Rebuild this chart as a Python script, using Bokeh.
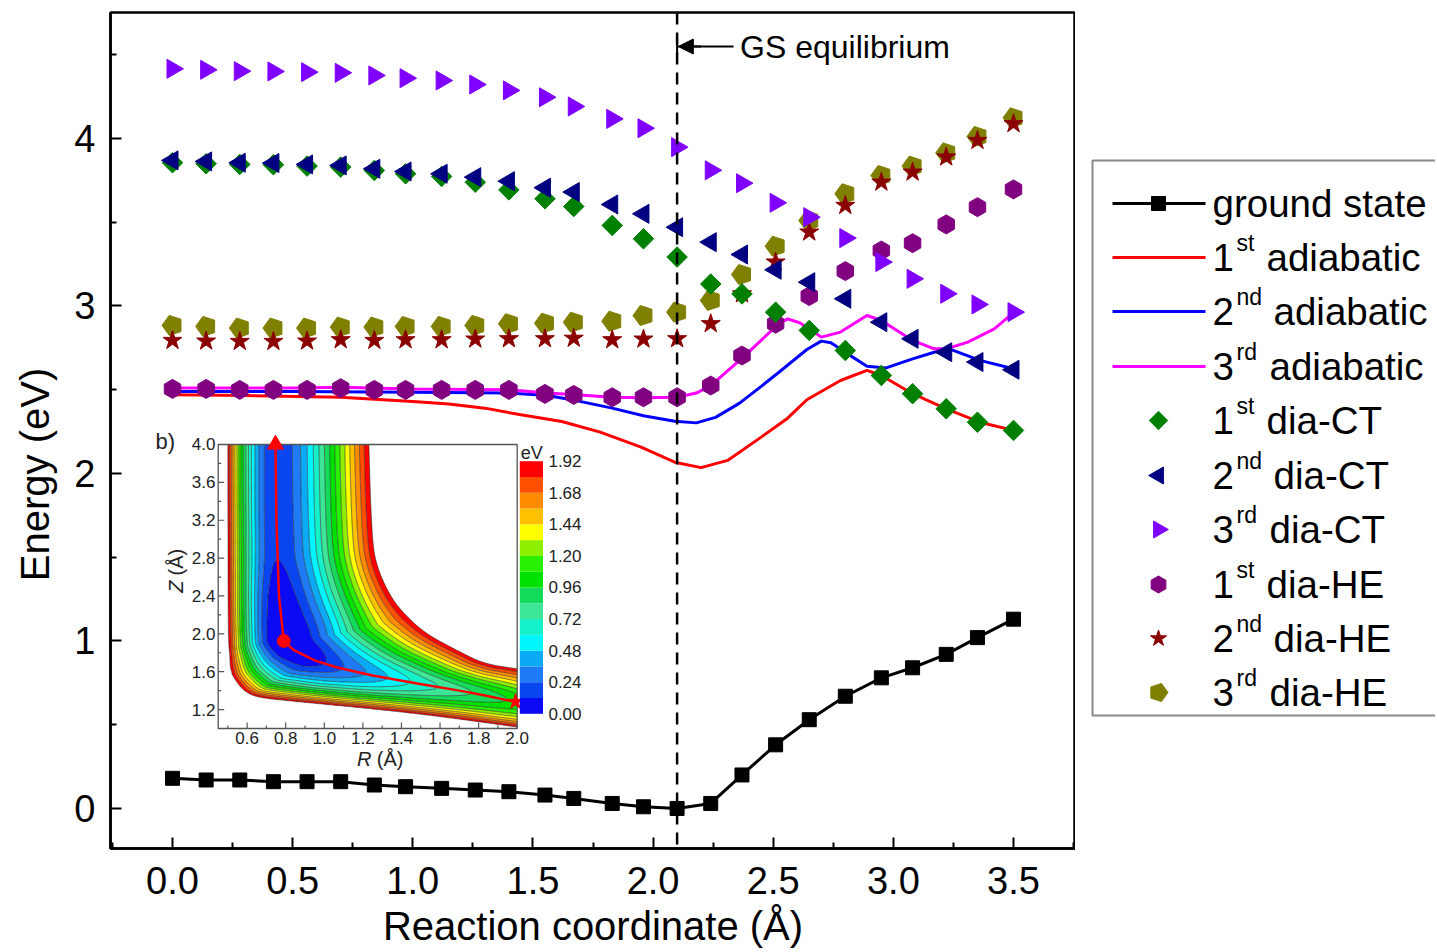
import numpy as np
from bokeh.plotting import figure
from bokeh.layouts import row
from bokeh.models import (Range1d, FixedTicker, Span, Label, Arrow, NormalHead, TeeHead)
from bokeh.core.properties import value
from bokeh.plotting.contour import contour_data
from bokeh.embed import file_html
from bokeh.resources import INLINE

# ---------------- main chart data ----------------
reaction_x = [0.00, 0.14, 0.28, 0.42, 0.56, 0.70, 0.84, 0.97, 1.12, 1.26, 1.40, 1.55, 1.67,
              1.83, 1.96, 2.10, 2.24, 2.37, 2.51, 2.65, 2.80, 2.95, 3.08, 3.22, 3.35, 3.50]
ground_state = [0.18, 0.17, 0.17, 0.16, 0.16, 0.16, 0.14, 0.13, 0.12, 0.11, 0.10, 0.08, 0.06,
                0.03, 0.01, 0.00, 0.03, 0.20, 0.38, 0.53, 0.67, 0.78, 0.84, 0.92, 1.02, 1.13]
dia_ct1 = [3.855, 3.849, 3.845, 3.843, 3.835, 3.829, 3.809, 3.789, 3.773, 3.739, 3.693, 3.640, 3.594,
           3.481, 3.401, 3.292, 3.131, 3.072, 2.963, 2.854, 2.734, 2.585, 2.476, 2.386, 2.306, 2.257]
dia_ct2 = [3.869, 3.863, 3.855, 3.853, 3.845, 3.839, 3.819, 3.803, 3.789, 3.769, 3.745, 3.706, 3.680,
           3.606, 3.550, 3.470, 3.381, 3.307, 3.216, 3.142, 3.043, 2.903, 2.804, 2.724, 2.665, 2.619]
dia_ct3 = [4.416, 4.410, 4.402, 4.400, 4.396, 4.392, 4.376, 4.360, 4.346, 4.322, 4.287, 4.246, 4.191,
           4.117, 4.061, 3.948, 3.810, 3.733, 3.616, 3.530, 3.405, 3.262, 3.162, 3.073, 3.009, 2.963]
dia_he1 = [2.505, 2.505, 2.499, 2.499, 2.499, 2.509, 2.499, 2.499, 2.499, 2.499, 2.499, 2.475, 2.469,
           2.455, 2.455, 2.455, 2.525, 2.704, 2.894, 3.059, 3.208, 3.331, 3.375, 3.487, 3.590, 3.696]
dia_he2 = [2.794, 2.790, 2.788, 2.788, 2.790, 2.798, 2.794, 2.798, 2.798, 2.802, 2.804, 2.804, 2.807,
           2.798, 2.802, 2.804, 2.894, 3.072, 3.262, 3.441, 3.600, 3.739, 3.799, 3.889, 3.988, 4.088]
dia_he3 = [2.884, 2.878, 2.868, 2.868, 2.868, 2.874, 2.874, 2.878, 2.878, 2.884, 2.894, 2.897, 2.903,
           2.909, 2.943, 2.963, 3.033, 3.188, 3.357, 3.510, 3.670, 3.779, 3.835, 3.914, 4.012, 4.123]

adia1_x = [0.0, 0.3, 0.7, 1.0, 1.15, 1.3, 1.45, 1.62, 1.78, 1.95, 2.09, 2.2, 2.31, 2.45, 2.56, 2.64,
           2.78, 2.89, 2.95, 3.08, 3.22, 3.36, 3.5]
adia1_y = [2.47, 2.465, 2.455, 2.43, 2.415, 2.39, 2.35, 2.31, 2.247, 2.157, 2.067, 2.035, 2.078, 2.217,
           2.33, 2.44, 2.555, 2.615, 2.585, 2.476, 2.386, 2.306, 2.257]
adia2_x = [0.0, 0.5, 1.0, 1.4, 1.56, 1.68, 1.83, 1.96, 2.09, 2.18, 2.26, 2.36, 2.45, 2.52, 2.64, 2.70,
           2.74, 2.81, 2.89, 2.97, 3.08, 3.17, 3.23, 3.36, 3.5]
adia2_y = [2.49, 2.49, 2.485, 2.48, 2.465, 2.435, 2.39, 2.345, 2.312, 2.302, 2.335, 2.42, 2.52, 2.6,
           2.74, 2.79, 2.78, 2.714, 2.64, 2.63, 2.684, 2.724, 2.745, 2.675, 2.625]
adia3_x = [0.0, 0.5, 0.7, 1.0, 1.4, 1.56, 1.68, 1.83, 1.96, 2.1, 2.18, 2.24, 2.38, 2.52, 2.56, 2.61,
           2.66, 2.70, 2.78, 2.89, 2.95, 3.08, 3.17, 3.22, 3.31, 3.42, 3.5]
adia3_y = [2.51, 2.51, 2.515, 2.505, 2.50, 2.48, 2.47, 2.455, 2.452, 2.455, 2.48, 2.525, 2.70, 2.89,
           2.923, 2.90, 2.854, 2.814, 2.844, 2.943, 2.913, 2.794, 2.744, 2.744, 2.784, 2.863, 2.96]

x_ticks = [0.0, 0.5, 1.0, 1.5, 2.0, 2.5, 3.0, 3.5]
y_ticks = [0, 1, 2, 3, 4]
gs_equilibrium_x = 2.1

legend_num = ["", "1", "2", "3", "1", "2", "3", "1", "2", "3"]
legend_sup = ["", "st", "nd", "rd", "st", "nd", "rd", "st", "nd", "rd"]
legend_word = ["ground state", "adiabatic", "adiabatic", "adiabatic", "dia-CT", "dia-CT", "dia-CT",
               "dia-HE", "dia-HE", "dia-HE"]

# ---------------- inset (PES) data ----------------
path_R = [0.75, 0.75, 0.755, 0.765, 0.79, 0.842, 0.95, 1.067, 1.25, 1.482, 1.70, 1.827, 1.991, 2.20]
path_Z = [4.40, 3.40, 2.80, 2.40, 1.925, 1.827, 1.72, 1.644, 1.56, 1.475, 1.40, 1.352, 1.282, 1.22]
path_E = [0.135, 0.13, 0.125, 0.03, -0.08, -0.06, 0.05, 0.21, 0.40, 0.64, 0.80, 0.88, 0.99, 1.08]
outer_wall_R = [1.23, 1.23, 1.245, 1.265, 1.343, 1.43, 1.533, 1.689, 1.827, 2.0, 2.2]
outer_wall_Z = [4.30, 4.00, 3.09, 2.74, 2.387, 2.176, 1.993, 1.824, 1.683, 1.63, 1.57]
inner_wall_R = [0.50, 0.502, 0.505, 0.514, 0.54, 0.583, 0.643, 0.78, 1.438, 2.0, 2.2]
inner_wall_Z = [4.30, 3.00, 2.00, 1.61, 1.51, 1.40, 1.334, 1.30, 1.173, 1.017, 0.96]
mep_R = [0.747, 0.752, 0.765, 0.79, 0.842, 0.95, 1.067, 1.25, 1.482, 1.70, 1.827, 1.991]
mep_Z = [4.0, 3.2, 2.4, 1.925, 1.827, 1.72, 1.644, 1.56, 1.475, 1.40, 1.352, 1.282]
cb_levels = [0.00, 0.12, 0.24, 0.36, 0.48, 0.60, 0.72, 0.84, 0.96, 1.08, 1.20, 1.32, 1.44,
             1.56, 1.68, 1.80, 1.92]
cb_labels = ["0.00", "0.24", "0.48", "0.72", "0.96", "1.20", "1.44", "1.68", "1.92"]
band_colors = ["#0a0af5", "#0a46f0", "#1e7af5", "#0aaaf5", "#00f5ff", "#14f0c8", "#3ce696",
               "#14dc5a", "#00e100", "#28f000", "#8cf000", "#ffff00", "#ffc000", "#ff8c00",
               "#ff5000", "#ff0000"]
R_ticks = [0.6, 0.8, 1.0, 1.2, 1.4, 1.6, 1.8, 2.0]
R_minor = [0.5, 0.7, 0.9, 1.1, 1.3, 1.5, 1.7, 1.9]
Z_ticks = [1.2, 1.6, 2.0, 2.4, 2.8, 3.2, 3.6, 4.0]
Z_minor = [1.0, 1.4, 1.8, 2.2, 2.6, 3.0, 3.4, 3.8]

FONT = "Liberation Sans"
FRAME_TOP, FRAME_BOTTOM = 12, 848   # page pixels of the main plot frame

# ---------------- main figure ----------------
p = figure(frame_width=965, height=950, min_border_left=110, min_border_top=FRAME_TOP,
           min_border_right=0, min_border_bottom=0,
           x_range=Range1d(-0.258, 3.758), y_range=Range1d(-0.239, 4.752),
           output_backend="svg", toolbar_location=None)
p.extra_x_ranges = {"R": Range1d(-0.1083, 4.8943)}
p.extra_y_ranges = {"Z": Range1d(-0.2675, 8.5632)}
p.xgrid.visible = False
p.ygrid.visible = False
p.outline_line_color = "black"
p.outline_line_width = 2.5

for ax in (p.xaxis[0], p.yaxis[0]):
    ax.axis_line_width = 2.5
    ax.major_tick_in = 11
    ax.major_tick_out = 0
    ax.minor_tick_in = 6
    ax.minor_tick_out = 0
    ax.major_tick_line_width = 2
    ax.minor_tick_line_width = 2
    ax.major_label_text_font = FONT
    ax.major_label_text_font_size = "38px"
    ax.major_label_text_color = "black"
    ax.axis_label_text_font = FONT
    ax.axis_label_text_font_size = "40px"
    ax.axis_label_text_font_style = "normal"
    ax.axis_label_text_color = "black"

p.xaxis.ticker = FixedTicker(ticks=x_ticks, minor_ticks=[t + 0.25 for t in x_ticks] + [-0.25])
p.yaxis.ticker = FixedTicker(ticks=y_ticks, minor_ticks=[t + 0.5 for t in y_ticks])
p.xaxis.major_label_overrides = {t: f"{t:.1f}" for t in x_ticks}
p.yaxis.major_label_overrides = {t: f"{t}" for t in y_ticks}
p.xaxis.axis_label = "Reaction coordinate (Å)"
# trailing em spaces shift the rotated title down, as in the original figure
p.yaxis.axis_label = "Energy (eV)\u2003\u2003\u2009"
p.xaxis.major_label_standoff = 18
p.xaxis.axis_label_standoff = 7
p.yaxis.major_label_standoff = 15
p.yaxis.axis_label_standoff = 14

# adiabatic lines
p.line(adia1_x, adia1_y, line_color="#ff0000", line_width=3)
p.line(adia2_x, adia2_y, line_color="#0000ff", line_width=3)
p.line(adia3_x, adia3_y, line_color="#ff00ff", line_width=3)

# diabatic markers
p.ngon(x=reaction_x, y=dia_he3, radius=10.5, radius_units="screen", n=5, angle=np.pi / 2,
       fill_color="#808000", line_color="#808000")
p.scatter(reaction_x, dia_he2, marker="star", size=20, fill_color="#8b0000", line_color="#8b0000")
p.scatter(reaction_x, dia_he1, marker="hex", size=19, angle=np.pi / 2,
          fill_color="#800080", line_color="#800080")
p.scatter(reaction_x, dia_ct1, marker="square", size=14.5, angle=np.pi / 4,
          fill_color="#008000", line_color="#008000")
p.scatter(reaction_x, dia_ct2, marker="triangle", size=19, angle=np.pi / 2,
          fill_color="#000080", line_color="#000080")
p.scatter(reaction_x, dia_ct3, marker="triangle", size=19, angle=-np.pi / 2,
          fill_color="#8000ff", line_color="#8000ff")

# ground state
p.line(reaction_x, ground_state, line_color="black", line_width=3)
p.scatter(reaction_x, ground_state, marker="square", size=14, fill_color="black", line_color="black")

# GS equilibrium marker
p.add_layout(Span(location=gs_equilibrium_x, dimension="height", line_color="black",
                  line_width=2.5, line_dash="12 8"))
p.add_layout(Arrow(end=NormalHead(size=15, fill_color="black", line_color="black"),
                   x_start=2.335, y_start=4.549, x_end=gs_equilibrium_x + 0.005, y_end=4.549,
                   line_width=2, line_color="black"))
p.add_layout(Arrow(end=TeeHead(size=16, line_width=2, line_color="black"),
                   x_start=2.2, y_start=4.549, x_end=gs_equilibrium_x, y_end=4.549,
                   line_width=2, line_color="black"))
p.add_layout(Label(x=2.362, y=4.549, text="GS equilibrium", text_font=FONT, text_font_size="32px",
                   text_baseline="middle", text_align="left", text_color="black"))

# ---------------- inset: potential energy surface ----------------
RN = dict(x_range_name="R", y_range_name="Z")
grid_R = np.linspace(0.45, 2.0, 156)
grid_Z = np.linspace(1.0, 4.0, 301)
RR, ZZ = np.meshgrid(grid_R, grid_Z)
PR, PZ = RR.ravel(), ZZ.ravel()


def rounded(xs, ys, n=3):
    """Chaikin corner cutting of a read-off outline (keeps its end points)."""
    pts = np.column_stack([xs, ys]).astype(float)
    for _ in range(n):
        q = 0.75 * pts[:-1] + 0.25 * pts[1:]
        r = 0.25 * pts[:-1] + 0.75 * pts[1:]
        new = np.empty((2 * len(q), 2))
        new[0::2], new[1::2] = q, r
        pts = np.vstack([pts[0], new, pts[-1]])
    return pts[:, 0], pts[:, 1]


def polyline_distance(LR, LZ):
    best = np.full(PR.shape, np.inf)
    crs = np.zeros(PR.shape)
    for i in range(len(LR) - 1):
        dx, dz = LR[i + 1] - LR[i], LZ[i + 1] - LZ[i]
        L2 = dx * dx + dz * dz
        if L2 == 0:
            continue
        t = np.clip(((PR - LR[i]) * dx + (PZ - LZ[i]) * dz) / L2, 0, 1)
        d = np.hypot(PR - (LR[i] + t * dx), PZ - (LZ[i] + t * dz))
        c = dx * (PZ - LZ[i]) - dz * (PR - LR[i])
        b = d < best
        best = np.where(b, d, best)
        crs = np.where(b, c, crs)
    return best, crs


dp, side_p = polyline_distance(path_R, path_Z)
dwo, side_o = polyline_distance(*rounded(outer_wall_R, outer_wall_Z))
dwi, side_i = polyline_distance(*rounded(inner_wall_R, inner_wall_Z))

# valley floor energy, smoothed over samples along the path
pR, pZ, pE = np.array(path_R), np.array(path_Z), np.array(path_E)
arc = np.concatenate([[0], np.cumsum(np.hypot(np.diff(pR), np.diff(pZ)))])
s_samp = np.linspace(0, arc[-1], 180)
sR, sZ, sE = np.interp(s_samp, arc, pR), np.interp(s_samp, arc, pZ), np.interp(s_samp, arc, pE)
dj = np.hypot(PR[:, None] - sR[None, :], PZ[:, None] - sZ[None, :])
dmin = dj.min(axis=1)
lam = 0.015 + 0.3 * dmin
wts = np.exp(-(dj - dmin[:, None]) / lam[:, None])
Ef = (wts * sE[None, :]).sum(axis=1) / wts.sum(axis=1)

e_top = cb_levels[-1]
u_o = dp / (dp + dwo + 1e-9)
u_i = dp / (dp + dwi + 1e-9)
g_o = (np.sqrt(1 + (3 * u_o) ** 2) - 1) / (np.sqrt(10) - 1)
g_i = u_i ** 2
# continuous rise beyond the 1.92 eV walls (left white in the map)
E_out = np.where(side_o > 0, e_top + 4.0 * dwo, Ef + (e_top - Ef) * g_o)
E_in = np.where(side_i < 0, e_top + 4.0 * dwi, Ef + (e_top - Ef) * g_i)
E = np.where(side_p > 0, E_out, E_in).reshape(RR.shape)

levels = [-1.0] + cb_levels[1:]
cd = contour_data(grid_R, grid_Z, E, levels)
fd = cd.fill_data
p.multi_polygons(xs=fd.xs, ys=fd.ys, fill_color=band_colors[:len(fd.xs)], line_color=None, **RN)
ld = cd.line_data
p.multi_line(xs=ld.xs[1:], ys=ld.ys[1:], line_color="#202020", line_width=0.7, line_alpha=0.8, **RN)

# inset frame and ticks
p.quad(left=[0.45], right=[2.0], bottom=[1.0], top=[4.0], fill_color=None,
       line_color="#555555", line_width=1.3, **RN)
tR = 6 / 192.9
tZ = 6 / 94.67
p.segment(x0=R_ticks, x1=R_ticks, y0=[1.0] * len(R_ticks), y1=[1.0 + tZ] * len(R_ticks),
          line_color="#555555", line_width=1.2, **RN)
p.segment(x0=R_minor, x1=R_minor, y0=[1.0] * len(R_minor), y1=[1.0 + tZ / 2] * len(R_minor),
          line_color="#555555", line_width=1.2, **RN)
p.segment(x0=[0.45] * len(Z_ticks), x1=[0.45 + tR] * len(Z_ticks), y0=Z_ticks, y1=Z_ticks,
          line_color="#555555", line_width=1.2, **RN)
p.segment(x0=[0.45] * len(Z_minor), x1=[0.45 + tR / 2] * len(Z_minor), y0=Z_minor, y1=Z_minor,
          line_color="#555555", line_width=1.2, **RN)
TXT = dict(text_font=value(FONT), text_color="#222222", **RN)
p.text(x=R_ticks, y=[0.968] * len(R_ticks), text=[f"{v:.1f}" for v in R_ticks],
       text_font_size=value("17px"), text_align="center", text_baseline="top", **TXT)
p.text(x=[0.436] * len(Z_ticks), y=Z_ticks, text=[f"{v:.1f}" for v in Z_ticks],
       text_font_size=value("17px"), text_align="right", text_baseline="middle", **TXT)
p.text(x=[1.245], y=[0.683], text=["R"], text_font_size=value("20px"), text_font_style="italic",
       text_align="right", text_baseline="middle", **TXT)
p.text(x=[1.272], y=[0.683], text=["(Å)"], text_font_size=value("20px"),
       text_align="left", text_baseline="middle", **TXT)
p.text(x=[0.229], y=[2.563], text=["Z"], angle=np.pi / 2, text_font_size=value("20px"),
       text_font_style="italic", text_align="right", text_baseline="middle", **TXT)
p.text(x=[0.229], y=[2.616], text=["(Å)"], angle=np.pi / 2, text_font_size=value("20px"),
       text_align="left", text_baseline="middle", **TXT)
p.text(x=[0.125], y=[4.03], text=["b)"], text_font_size=value("22px"),
       text_align="left", text_baseline="middle", **TXT)

# minimum energy path
p.line(mep_R, mep_Z, line_color="#ff0000", line_width=2.5, **RN)
p.scatter([mep_R[0]], [mep_Z[0]], marker="triangle", size=16, fill_color="#ff0000", line_color="#ff0000", **RN)
p.scatter([mep_R[3]], [mep_Z[3]], marker="circle", size=13, fill_color="#ff0000", line_color="#ff0000", **RN)
p.scatter([mep_R[-1]], [mep_Z[-1]], marker="star", size=16, fill_color="#ff0000", line_color="#ff0000", **RN)

# colour bar
cb_l, cb_r, cb_b, cb_t = 2.0135, 2.1338, 1.1554, 3.8236
span_z = (cb_t - cb_b) / (cb_levels[-1] - cb_levels[0])
p.quad(left=[cb_l] * 16, right=[cb_r] * 16,
       bottom=[cb_b + lv * span_z for lv in cb_levels[:-1]],
       top=[cb_b + lv * span_z for lv in cb_levels[1:]],
       fill_color=band_colors, line_color=None, **RN)
p.text(x=[2.162] * len(cb_labels), y=[cb_b + float(s) * span_z for s in cb_labels], text=cb_labels,
       text_font_size=value("17px"), text_align="left", text_baseline="middle", **TXT)
p.text(x=[2.075], y=[3.915], text=["eV"], text_font_size=value("18px"),
       text_align="center", text_baseline="middle", **TXT)

# ---------------- legend (separate panel to the right; y in page pixels) ----------------
LEG_W = 360
leg = figure(width=LEG_W, height=950, x_range=Range1d(0, LEG_W),
             y_range=Range1d(FRAME_BOTTOM, FRAME_TOP),
             min_border=0, min_border_top=FRAME_TOP, output_backend="svg", toolbar_location=None,
             x_axis_location=None, y_axis_location=None)
leg.xgrid.visible = False
leg.ygrid.visible = False
leg.outline_line_color = None
leg.quad(left=[17], right=[420], top=[160], bottom=[715], fill_color="white",
         line_color="#888888", line_width=2)
row_y = [203, 257, 311, 366, 420, 475, 529, 584, 638, 692]
gx0, gx1, gxm = 37, 130, 83
leg.segment(x0=[gx0] * 4, x1=[gx1] * 4, y0=row_y[:4], y1=row_y[:4],
            line_color=["black", "#ff0000", "#0000ff", "#ff00ff"], line_width=3)
leg.scatter([gxm], [row_y[0]], marker="square", size=14, fill_color="black", line_color="black")
leg.scatter([gxm], [row_y[4]], marker="square", size=13, angle=np.pi / 4,
            fill_color="#008000", line_color="#008000")
leg.scatter([gxm], [row_y[5]], marker="triangle", size=17, angle=np.pi / 2,
            fill_color="#000080", line_color="#000080")
leg.scatter([gxm], [row_y[6]], marker="triangle", size=17, angle=-np.pi / 2,
            fill_color="#8000ff", line_color="#8000ff")
leg.scatter([gxm], [row_y[7]], marker="hex", size=17, angle=np.pi / 2,
            fill_color="#800080", line_color="#800080")
leg.scatter([gxm], [row_y[8]], marker="star", size=17, fill_color="#8b0000", line_color="#8b0000")
leg.ngon(x=[gxm], y=[row_y[9]], radius=9.5, radius_units="screen", n=5, angle=-np.pi / 2,
         fill_color="#808000", line_color="#808000")
LT = dict(text_font=value(FONT), text_color="black")
leg.text(x=[137], y=[row_y[0]], text=[legend_word[0]], text_font_size=value("38.5px"),
         text_baseline="middle", text_align="left", **LT)
leg.text(x=[137] * 9, y=row_y[1:], text=legend_num[1:], text_font_size=value("38.5px"),
         text_baseline="middle", text_align="left", **LT)
leg.text(x=[161] * 9, y=[yy - 15 for yy in row_y[1:]], text=legend_sup[1:],
         text_font_size=value("23px"), text_baseline="middle", text_align="left", **LT)
word_x = {"st": 191, "nd": 198, "rd": 194}
leg.text(x=[word_x[s] for s in legend_sup[1:]], y=row_y[1:], text=legend_word[1:],
         text_font_size=value("38.5px"), text_baseline="middle", text_align="left", **LT)

open("out.html", "w").write(file_html(row(p, leg), INLINE))
